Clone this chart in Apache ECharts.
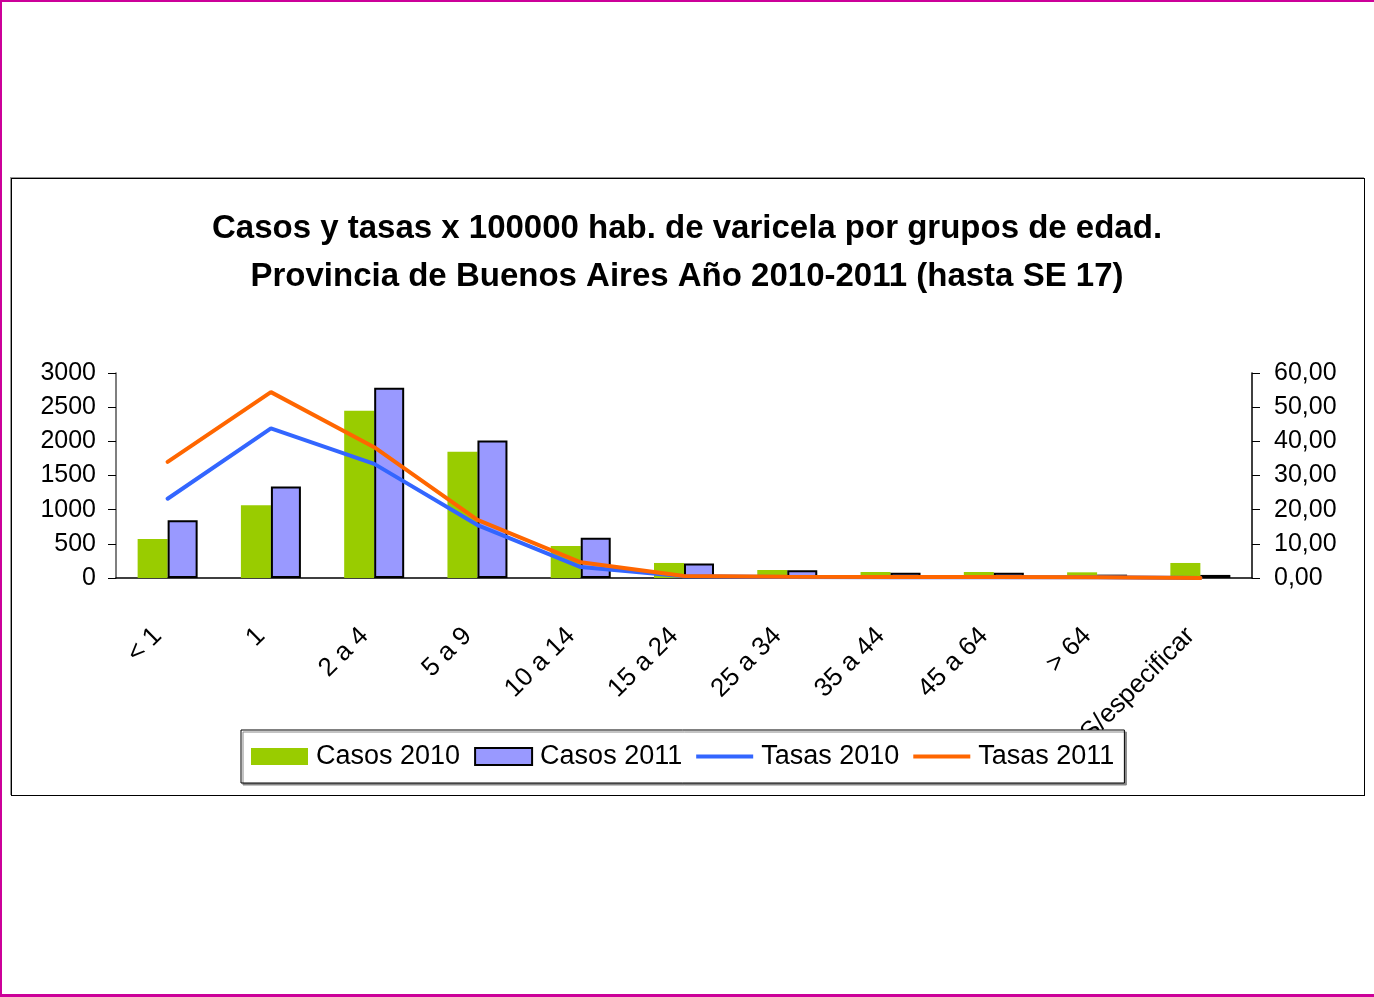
<!DOCTYPE html>
<html>
<head>
<meta charset="UTF-8">
<title>Varicela por grupos de edad</title>
<script src="https://cdn.jsdelivr.net/npm/echarts@6/dist/echarts.min.js"></script>
<style>
  html, body { margin: 0; padding: 0; background: #fff; }
  #frame { position: absolute; left: 0; top: 0; width: 1374px; height: 997px; box-sizing: border-box;
           border-top: 2px solid #cc0099; border-left: 2px solid #cc0099; border-bottom: 3px solid #cc0099; }
  #box { position: absolute; left: 11px; top: 178px; width: 1352px; height: 616px;
         border: 1px solid #000; box-shadow: -1px -1px 0 #999; }
  #main { position: absolute; left: 0; top: 0; width: 1374px; height: 997px; }
</style>
</head>
<body>
<div id="frame"></div>
<div id="box"></div>
<div id="main"></div>
<script type="text/javascript">
// grupos de edad
var grupos = ['< 1', '1', '2 a 4', '5 a 9', '10 a 14', '15 a 24', '25 a 34', '35 a 44', '45 a 64', '> 64', 'S/especificar'];
// casos (eje izquierdo)
var casos2010 = [570, 1065, 2447, 1847, 470, 220, 117, 88, 88, 83, 220];
var casos2011 = [846, 1338, 2785, 2012, 590, 214, 113, 78, 78, 49, 45];
// tasas x 100000 hab. (eje derecho)
var tasas2010 = [23.2, 43.8, 33.4, 15.5, 3.2, 0.5, 0.3, 0.2, 0.2, 0.2, 0];
var tasas2011 = [34.0, 54.4, 38.3, 17.0, 4.6, 0.6, 0.4, 0.3, 0.3, 0.2, 0];

var fuente = "'Liberation Sans', Arial, sans-serif";
// icono de linea para la leyenda (solo el trazo, sin punto)
var iconoLinea = 'path://M0,0h0.01v0.01h-0.01zM0,6.5h57v4h-57zM0,16.99h0.01v0.01h-0.01z';

var myChart = echarts.init(document.getElementById('main'));
myChart.setOption({
    animation: false,
    textStyle: { fontFamily: fuente, color: '#000' },
    title: {
        text: 'Casos y tasas x 100000 hab. de varicela por grupos de edad.\nProvincia de Buenos Aires Año 2010-2011 (hasta SE 17)',
        left: 'center',
        top: 200,
        textStyle: { fontFamily: fuente, fontSize: 33, fontWeight: 'bold', color: '#000', lineHeight: 48 }
    },
    legend: {
        left: 241,
        top: 730,
        padding: [13, 10, 13, 10],
        itemGap: 14,
        itemWidth: 57,
        itemHeight: 17,
        symbolKeepAspect: false,
        borderColor: '#000',
        borderWidth: 1,
        backgroundColor: '#fff',
        shadowColor: '#888',
        shadowOffsetX: 2,
        shadowOffsetY: 2,
        textStyle: { fontFamily: fuente, fontSize: 27, color: '#000', padding: [0, 0, 0, 3] },
        data: [
            { name: 'Casos 2010', icon: 'rect' },
            { name: 'Casos 2011', icon: 'rect' },
            { name: 'Tasas 2010', icon: iconoLinea },
            { name: 'Tasas 2011', icon: iconoLinea }
        ]
    },
    grid: { left: 116, right: 122, top: 373, bottom: 419 },
    xAxis: {
        type: 'category',
        data: grupos,
        axisLine: { lineStyle: { color: '#000', width: 1.5 } },
        axisTick: { length: 9, lineStyle: { color: '#000' } },
        axisLabel: { rotate: 45, margin: 44, padding: [0, 14, 0, 0], fontSize: 26, color: '#000', interval: 0 }
    },
    yAxis: [{
        type: 'value',
        min: 0, max: 3000, interval: 500,
        splitLine: { show: false },
        axisLine: { show: true, lineStyle: { color: '#555', width: 1.5 } },
        axisTick: { show: true, length: 8, lineStyle: { color: '#000' } },
        axisLabel: { margin: 20, fontSize: 25, color: '#000', formatter: function (v) { return String(v); } }
    }, {
        type: 'value',
        min: 0, max: 60, interval: 10,
        splitLine: { show: false },
        axisLine: { show: true, lineStyle: { color: '#000', width: 1.5 } },
        axisTick: { show: true, length: 8, lineStyle: { color: '#000' } },
        axisLabel: {
            margin: 22, fontSize: 25, color: '#000',
            formatter: function (v) { return v.toFixed(2).replace('.', ','); }
        }
    }],
    series: [{
        name: 'Casos 2010',
        type: 'bar',
        barWidth: 30,
        barGap: '0%',
        itemStyle: { color: '#99cc00' },
        data: casos2010
    }, {
        name: 'Casos 2011',
        type: 'bar',
        barWidth: 30,
        barGap: '0%',
        itemStyle: { color: '#9999ff', borderColor: '#000', borderWidth: 2 },
        data: casos2011
    }, {
        name: 'Tasas 2010',
        type: 'line',
        yAxisIndex: 1,
        symbol: 'none',
        lineStyle: { color: '#3366ff', width: 4, cap: 'round' },
        itemStyle: { color: '#3366ff' },
        data: tasas2010
    }, {
        name: 'Tasas 2011',
        type: 'line',
        yAxisIndex: 1,
        symbol: 'none',
        lineStyle: { color: '#ff6600', width: 4, cap: 'round' },
        itemStyle: { color: '#ff6600' },
        data: tasas2011
    }]
});
</script>
</body>
</html>
